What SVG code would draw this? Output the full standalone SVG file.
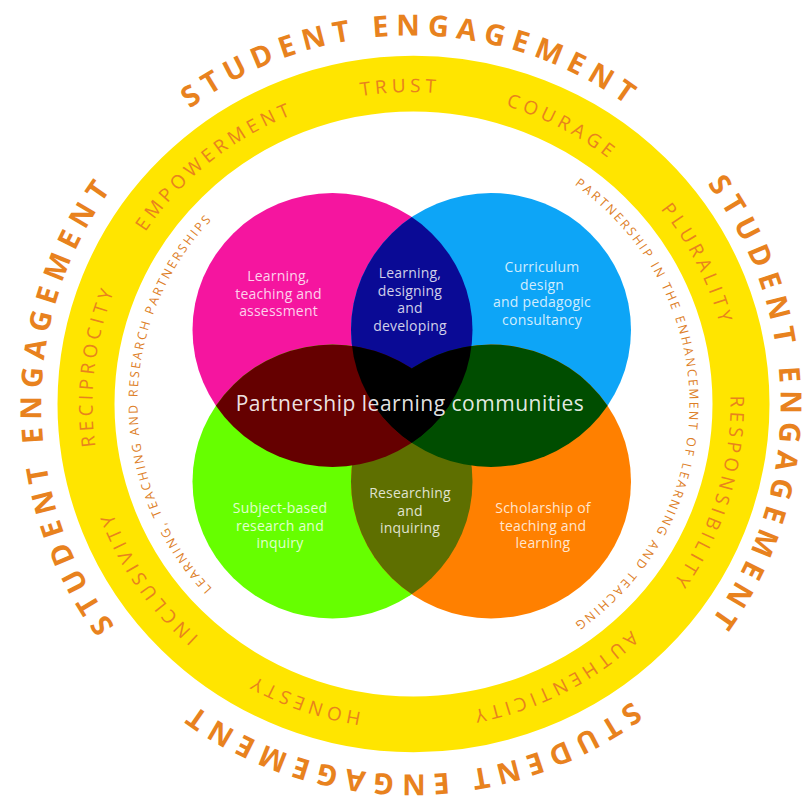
<svg xmlns="http://www.w3.org/2000/svg" xmlns:xlink="http://www.w3.org/1999/xlink" width="805" height="796" viewBox="0 0 805 796">
<style>
  .ring-word { font-family: 'Open Sans', 'Liberation Sans', sans-serif; font-size: 19px; fill: #E8821E; letter-spacing: 4.5px; }
  .outer-word { font-family: 'Open Sans', 'Liberation Sans', sans-serif; font-size: 29px; font-weight: 700; fill: #E8821E; letter-spacing: 7.3px; }
  .arc-small { font-family: 'Open Sans', 'Liberation Sans', sans-serif; font-size: 12.5px; fill: #DD7E26; letter-spacing: 2.35px; }
  .lbl { font-family: 'Open Sans', 'Liberation Sans', sans-serif; font-size: 14px; fill: #ffffff; fill-opacity: 0.82; text-anchor: middle; letter-spacing: 0.2px; }
  .lbl-main { font-family: 'Open Sans', 'Liberation Sans', sans-serif; font-size: 21px; fill: #ffffff; fill-opacity: 0.9; text-anchor: middle; letter-spacing: 0.5px; }
</style>
<defs>
  <circle id="cP" cx="-81" cy="-75.7" r="140"/>
  <circle id="cB" cx="77.5" cy="-75.7" r="140"/>
  <circle id="cG" cx="-81" cy="79.2" r="140"/>
  <circle id="cO" cx="77.5" cy="79.2" r="140"/>
  <clipPath id="clipP"><use xlink:href="#cP"/></clipPath>
  <clipPath id="clipB"><use xlink:href="#cB"/></clipPath>
  <clipPath id="clipG"><use xlink:href="#cG"/></clipPath>
  <path id="rtT" d="M0,-319 A319,319 0 1 1 0,319 A319,319 0 1 1 0,-319"/>
  <path id="rtB" d="M0,319 A319,319 0 1 1 0,-319 A319,319 0 1 1 0,319"/>
  <path id="smT" d="M0,-276 A276,276 0 1 1 0,276 A276,276 0 1 1 0,-276"/>
  <path id="otT" d="M0,-369.5 A369.5,369.5 0 1 1 0,369.5 A369.5,369.5 0 1 1 0,-369.5"/>
  <path id="otB" d="M0,369.5 A369.5,369.5 0 1 1 0,-369.5 A369.5,369.5 0 1 1 0,369.5"/>
</defs>
<rect width="805" height="796" fill="#ffffff"/>

<!-- yellow values ring -->
<g id="values-ring" transform="translate(413.5,404) scale(1,0.978)">
  <circle cx="0" cy="0" r="327.5" fill="none" stroke="#FFE500" stroke-width="57"/>
</g>

<!-- values on the ring -->
<g id="values" transform="translate(411.5,404) scale(1,0.978)">
  <text class="ring-word" text-anchor="middle"><textPath xlink:href="#rtB" startOffset="49.44%">TRUST</textPath></text>
  <text class="ring-word" text-anchor="middle"><textPath xlink:href="#rtT" startOffset="7.78%">COURAGE</textPath></text>
  <text class="ring-word" text-anchor="middle"><textPath xlink:href="#rtT" startOffset="17.64%">PLURALITY</textPath></text>
  <text class="ring-word" text-anchor="middle"><textPath xlink:href="#rtT" startOffset="29.72%">RESPONSIBILITY</textPath></text>
  <text class="ring-word" text-anchor="middle"><textPath xlink:href="#rtT" startOffset="42.5%">AUTHENTICITY</textPath></text>
  <text class="ring-word" text-anchor="middle"><textPath xlink:href="#rtT" startOffset="55.42%">HONESTY</textPath></text>
  <text class="ring-word" text-anchor="middle"><textPath xlink:href="#rtT" startOffset="65.56%">INCLUSIVITY</textPath></text>
  <text class="ring-word" text-anchor="middle"><textPath xlink:href="#rtT" startOffset="76.94%">RECIPROCITY</textPath></text>
  <text class="ring-word" text-anchor="middle"><textPath xlink:href="#rtT" startOffset="89.17%">EMPOWERMENT</textPath></text>
</g>

<!-- inner arc captions -->
<g id="arc-captions" transform="translate(413.5,404) scale(1,0.978)">
  <text class="arc-small" text-anchor="middle"><textPath xlink:href="#smT" startOffset="75.03%">LEARNING, TEACHING AND RESEARCH PARTNERSHIPS</textPath></text>
  <text class="arc-small" text-anchor="middle"><textPath xlink:href="#smT" startOffset="25.06%">PARTNERSHIP IN THE ENHANCEMENT OF LEARNING AND TEACHING</textPath></text>
</g>

<!-- outer student engagement -->
<g id="student-engagement" transform="translate(411,405)">
  <text class="outer-word" text-anchor="middle"><textPath xlink:href="#otB" startOffset="50%">STUDENT ENGAGEMENT</textPath></text>
  <text class="outer-word" text-anchor="middle"><textPath xlink:href="#otT" startOffset="25%">STUDENT ENGAGEMENT</textPath></text>
  <text class="outer-word" text-anchor="middle"><textPath xlink:href="#otT" startOffset="50%">STUDENT ENGAGEMENT</textPath></text>
  <text class="outer-word" text-anchor="middle"><textPath xlink:href="#otT" startOffset="75%">STUDENT ENGAGEMENT</textPath></text>
</g>

<!-- venn circles -->
<g id="venn" transform="translate(413.5,404) scale(1,0.978)">
  <g id="circle-learning-teaching"><use xlink:href="#cP" fill="#F5159F"/></g>
  <g id="circle-curriculum"><use xlink:href="#cB" fill="#0DA5F7"/></g>
  <g id="circle-subject-research"><use xlink:href="#cG" fill="#66FF00"/></g>
  <g id="circle-scholarship"><use xlink:href="#cO" fill="#FF8000"/></g>
  <g id="overlap-researching"><use xlink:href="#cO" fill="#5E6F00" clip-path="url(#clipG)"/></g>
  <g id="overlap-designing"><use xlink:href="#cB" fill="#0A0A95" clip-path="url(#clipP)"/></g>
  <g id="overlap-left"><use xlink:href="#cG" fill="#650000" clip-path="url(#clipP)"/></g>
  <g id="overlap-right"><use xlink:href="#cO" fill="#004D00" clip-path="url(#clipB)"/></g>
  <g id="overlap-centre" clip-path="url(#clipP)"><g clip-path="url(#clipB)"><use xlink:href="#cG" fill="#000000"/><use xlink:href="#cO" fill="#000000"/></g></g>
</g>

<!-- labels -->
<g id="label-learning-teaching">
  <text class="lbl" x="278.5" y="281">Learning,</text>
  <text class="lbl" x="278.5" y="298.5">teaching and</text>
  <text class="lbl" x="278.5" y="316">assessment</text>
</g>
<g id="label-designing">
  <text class="lbl" x="410" y="278">Learning,</text>
  <text class="lbl" x="410" y="295.5">designing</text>
  <text class="lbl" x="410" y="313">and</text>
  <text class="lbl" x="410" y="330.5">developing</text>
</g>
<g id="label-curriculum">
  <text class="lbl" x="542" y="272">Curriculum</text>
  <text class="lbl" x="542" y="289.5">design</text>
  <text class="lbl" x="542" y="307">and pedagogic</text>
  <text class="lbl" x="542" y="324.5">consultancy</text>
</g>
<g id="label-subject-research">
  <text class="lbl" x="280" y="513" fill-opacity="0.72">Subject-based</text>
  <text class="lbl" x="280" y="530.5" fill-opacity="0.72">research and</text>
  <text class="lbl" x="280" y="548" fill-opacity="0.72">inquiry</text>
</g>
<g id="label-researching">
  <text class="lbl" x="410" y="498">Researching</text>
  <text class="lbl" x="410" y="515.5">and</text>
  <text class="lbl" x="410" y="533">inquiring</text>
</g>
<g id="label-scholarship">
  <text class="lbl" x="543" y="513">Scholarship of</text>
  <text class="lbl" x="543" y="530.5">teaching and</text>
  <text class="lbl" x="543" y="548">learning</text>
</g>
<g id="label-partnership-communities">
  <text class="lbl-main" x="410" y="411">Partnership learning communities</text>
</g>
</svg>
